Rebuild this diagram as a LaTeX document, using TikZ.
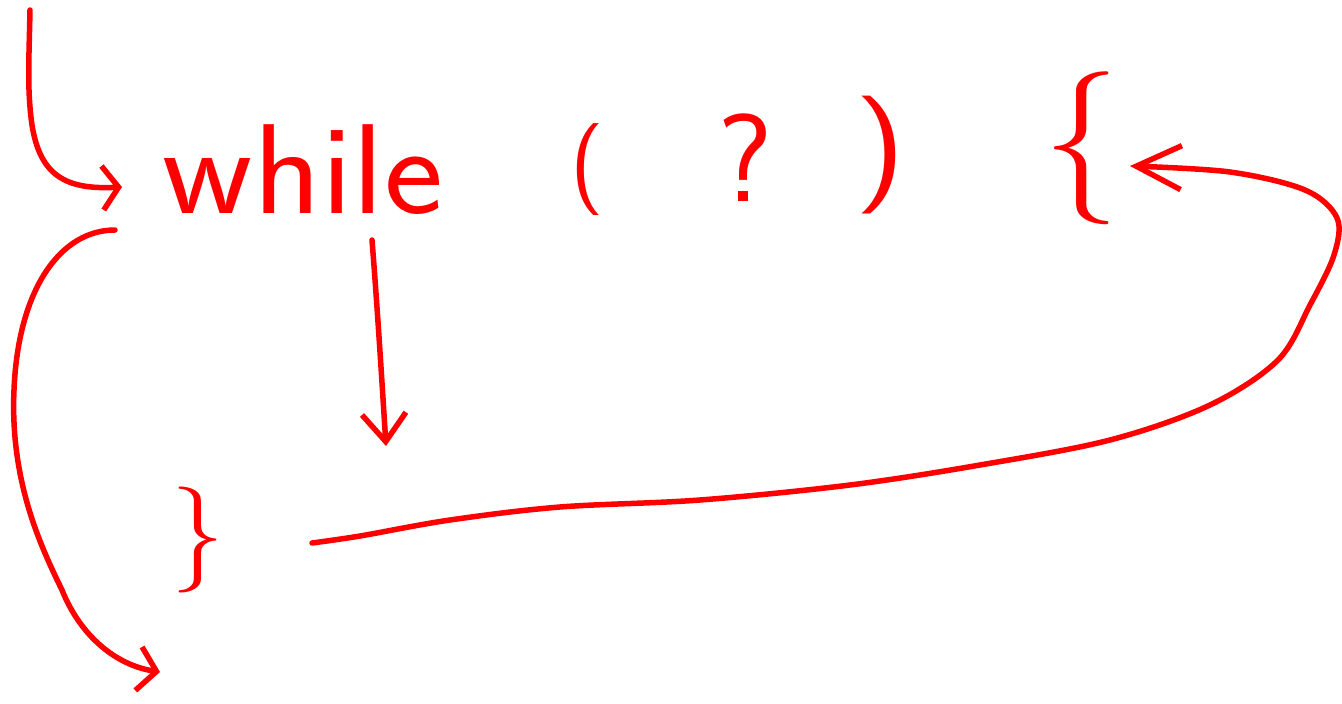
\documentclass[tikz,border=0pt]{standalone}
\usepackage{fontspec}
\usetikzlibrary{arrows.meta}
\definecolor{ink}{RGB}{255,0,0}
\begin{document}
\begin{tikzpicture}[x=1pt,y=-1pt,
  pen/.style={draw=ink,line width=5.5pt,line cap=round,line join=round},
  glyph/.style={text=ink,inner sep=0pt,font=\sffamily},
  tip/.style={-{Straight Barb[length=#1,width=44pt,line width=5.5pt]}},
  tip/.default=20pt]
\useasboundingbox (0,0) rectangle (1342,704);
% texts
\node[glyph,font=\sffamily\fontsize{128}{128}\selectfont,xscale=1.1] (while) at (303,170) {while};
\node[glyph,font=\sffamily\fontsize{92}{92}\selectfont] (lpar) at (587,170) {(};
\node[glyph,font=\sffamily\fontsize{125}{125}\selectfont] (q) at (745,158) {?};
\node[glyph,font=\sffamily\fontsize{118}{118}\selectfont,xscale=1.2] (rpar) at (880,155) {)};
\node[glyph,font=\sffamily\fontsize{153}{153}\selectfont] (lbrace) at (1082,148) {\{};
\node[glyph,font=\sffamily\fontsize{106}{106}\selectfont] (rbrace) at (198,540) {\}};
% connector ends
\coordinate (a1s) at (30,10);
\coordinate (a1e) at (122,187);
\coordinate (a2s) at (115,230);
\coordinate (a2e) at (160,672);
\coordinate (a3s) at (372,240);
\coordinate (a3e) at (386,446);
\coordinate (a4s) at (312,543);
\coordinate (a4e) at (1130,166);
% connectors
\draw[pen,tip=16pt] (a1s) .. controls (29,60) and (27,90) .. (32,125)
  .. controls (40,175) and (65,190) .. (a1e);
\draw[pen,tip=18pt] (a2s) .. controls (60,230) and (18,290) .. (14,390)
  .. controls (10,480) and (40,545) .. (62,590)
  .. controls (80,635) and (115,665) .. (a2e);
\draw[pen,tip=28pt] (a3s) .. controls (376,290) and (380,350) .. (a3e);
\draw[pen,tip=45pt] plot[smooth,tension=0.55] coordinates {(a4s) (360,536) (450,520) (560,507) (700,500) (850,485) (980,465) (1110,440) (1210,405) (1278,360) (1310,305) (1334,255) (1337,218) (1305,190) (1230,172) (a4e)};
\end{tikzpicture}
\end{document}
